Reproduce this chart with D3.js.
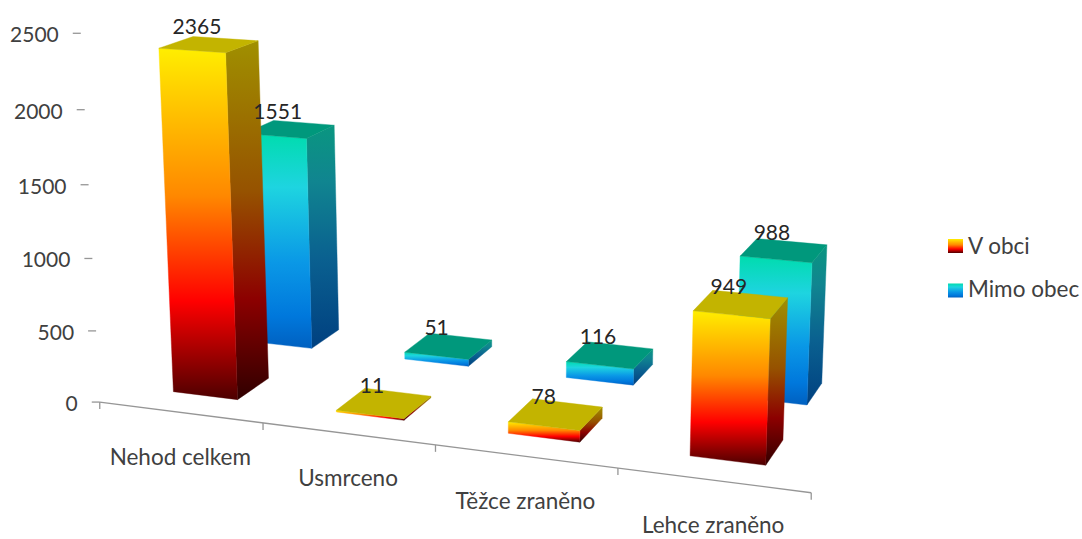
<!DOCTYPE html>
<html>
<head>
<meta charset="utf-8">
<script src="https://cdn.jsdelivr.net/npm/d3@7"></script>
<style>
  body { margin: 0; background: #fff; }
  text { font-family: Lato, sans-serif; fill: #404040; }
</style>
</head>
<body>
<div id="chart"></div>
<script>
const categories = ["Nehod celkem", "Usmrceno", "Těžce zraněno", "Lehce zraněno"];
const seriesNames = ["V obci", "Mimo obec"];
const vObci = [2365, 11, 78, 949];
const mimoObec = [1551, 51, 116, 988];
const valueTicks = [0, 500, 1000, 1500, 2000, 2500];

const WIDTH = 1082;
const HEIGHT = 539;

// world space: x = category units, y = value / max, z = series depth units
const x = d3.scaleBand().domain(categories).range([0, 4]).paddingInner(0.6).paddingOuter(0.3);
const z = d3.scaleBand().domain(seriesNames).range([0, 2]).paddingInner(0.6).paddingOuter(0.3);
const y = d3.scaleLinear().domain([0, 2500]).range([0, 1]);

// perspective camera, world -> screen
const CAM = [156.2735, -22.48678, 97.37249, 99.75452,
             9.55049, -370.23451, -25.84579, 402.06892,
             -0.02662, -0.04343, 0.07351];

function project(wx, wy, wz) {
  const w = CAM[8] * wx + CAM[9] * wy + CAM[10] * wz + 1;
  return [
    (CAM[0] * wx + CAM[1] * wy + CAM[2] * wz + CAM[3]) / w,
    (CAM[4] * wx + CAM[5] * wy + CAM[6] * wz + CAM[7]) / w
  ];
}

const svg = d3.select("#chart").append("svg")
  .attr("width", WIDTH)
  .attr("height", HEIGHT)
  .style("display", "block");

const defs = svg.append("defs");

function addGradient(id, stops) {
  const g = defs.append("linearGradient").attr("id", id)
    .attr("x1", 0).attr("y1", 0).attr("x2", 0).attr("y2", 1);
  stops.forEach(s => g.append("stop").attr("offset", s[0]).attr("stop-color", s[1]));
}

addGradient("front0", [[0, "#ffee00"], [0.12, "#ffd000"], [0.42, "#ff8800"], [0.72, "#ff0000"], [0.88, "#990000"], [1, "#4d0000"]]);
addGradient("side0", [[0, "#a09000"], [0.42, "#965200"], [0.72, "#8c0000"], [1, "#300000"]]);
addGradient("front1", [[0, "#00dcae"], [0.25, "#1ed4e0"], [0.6, "#0a98e6"], [0.85, "#0078dc"], [1, "#0060c0"]]);
addGradient("side1", [[0, "#0a9680"], [0.25, "#108590"], [0.6, "#0a6090"], [1, "#004080"]]);
const topColors = ["#c3b400", "#00987c"];

const face = d3.line();

function addFace(group, corners, fill) {
  // thin stroke in the fill colour closes the seams between faces
  group.append("path")
    .attr("d", face(corners) + "Z")
    .attr("fill", fill)
    .attr("stroke", fill)
    .attr("stroke-width", 0.4);
}

function drawBar(group, category, s, value) {
  const x0 = x(category), x1 = x0 + x.bandwidth();
  const z0 = z(seriesNames[s]), z1 = z0 + z.bandwidth();
  const h = y(value);
  addFace(group, [project(x1, 0, z0), project(x1, 0, z1), project(x1, h, z1), project(x1, h, z0)], `url(#side${s})`);
  addFace(group, [project(x0, h, z0), project(x1, h, z0), project(x1, 0, z0), project(x0, 0, z0)], `url(#front${s})`);
  addFace(group, [project(x0, h, z0), project(x1, h, z0), project(x1, h, z1), project(x0, h, z1)], topColors[s]);
}

// floor axis with category ticks
const axis = svg.append("g").attr("stroke", "#969696").attr("stroke-width", 1.3).attr("fill", "none");
axis.append("path").attr("d", face([project(0, 0, 0), project(4, 0, 0)]));
d3.range(5).forEach(i => {
  const p = project(i, 0, 0);
  axis.append("line").attr("x1", p[0]).attr("y1", p[1]).attr("x2", p[0]).attr("y2", p[1] + 7);
});

// value ticks, no axis line
valueTicks.forEach(v => {
  const p = project(0, y(v), 0);
  axis.append("line").attr("x1", p[0] - 8).attr("y1", p[1]).attr("x2", p[0]).attr("y2", p[1]);
  svg.append("text")
    .attr("x", p[0] - 22).attr("y", p[1] + 3.5)
    .attr("text-anchor", "end").attr("dominant-baseline", "middle")
    .attr("font-size", 21)
    .text(v);
});

// back row first so the front row covers it
const bars = svg.append("g");
[mimoObec, vObci].forEach(values => {
  const s = values === vObci ? 0 : 1;
  categories.forEach((c, i) => drawBar(bars, c, s, values[i]));
});

categories.forEach(c => {
  const p = project(x(c) + x.bandwidth() / 2, 0, 0);
  svg.append("text")
    .attr("x", p[0]).attr("y", p[1] + 47)
    .attr("text-anchor", "middle").attr("dominant-baseline", "middle")
    .attr("font-size", 22.5)
    .text(c);
});

// value labels sit up and left of each top face
[vObci, mimoObec].forEach((values, s) => {
  categories.forEach((c, i) => {
    const p = project(x(c) + x.bandwidth() / 2, y(values[i]), z(seriesNames[s]) + z.bandwidth() / 2);
    svg.append("text")
      .attr("x", p[0] - 12).attr("y", p[1] - 16)
      .attr("text-anchor", "middle").attr("dominant-baseline", "middle")
      .attr("font-size", 21)
      .style("fill", "#262626")
      .text(values[i]);
  });
});

// legend
const legend = svg.append("g").attr("transform", "translate(948,239)");
seriesNames.forEach((name, s) => {
  legend.append("rect")
    .attr("x", 0).attr("y", s * 44.5).attr("width", 15).attr("height", 14)
    .attr("fill", `url(#front${s})`);
  legend.append("text")
    .attr("x", 20).attr("y", s * 43 + 9)
    .attr("dominant-baseline", "middle")
    .attr("font-size", 22.5)
    .text(name);
});
</script>
</body>
</html>
